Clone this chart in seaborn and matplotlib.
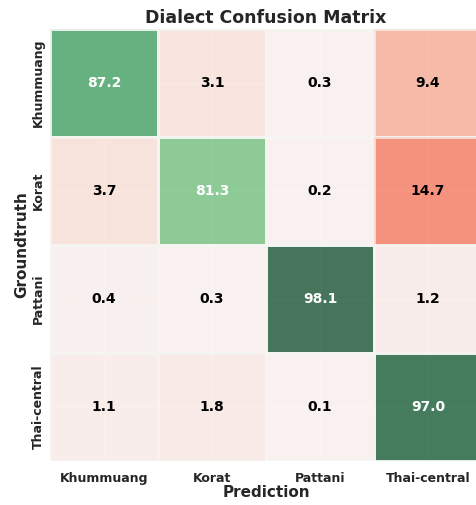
import matplotlib
matplotlib.use("Agg")
import matplotlib.pyplot as plt
import numpy as np
import pandas as pd
import seaborn as sns

DIALECTS = ["Khummuang", "Korat", "Pattani", "Thai-central"]
ROW_KHUMMUANG = [87.2, 3.1, 0.3, 9.4]
ROW_KORAT = [3.7, 81.3, 0.2, 14.7]
ROW_PATTANI = [0.4, 0.3, 98.1, 1.2]
ROW_THAI_CENTRAL = [1.1, 1.8, 0.1, 97.0]

sns.set_theme(style="darkgrid")
plt.rcParams["font.family"] = ["DejaVu Sans"]

cm = pd.DataFrame(
    [ROW_KHUMMUANG, ROW_KORAT, ROW_PATTANI, ROW_THAI_CENTRAL],
    index=DIALECTS,
    columns=DIALECTS,
)
diag = np.eye(len(DIALECTS), dtype=bool)

fig = plt.figure(figsize=(4.77, 5.05), dpi=100)
ax = fig.add_axes([0.1048, 0.0871, 0.9057, 0.8554])
ax.set_axisbelow(True)

# diagonal (correct) in greens, off-diagonal (errors) in reds
sns.heatmap(cm, mask=~diag, cmap="Greens", vmin=62, vmax=98.1, alpha=0.7,
            annot=True, fmt=".1f", cbar=False, linewidths=1, linecolor="#f4f6f4",
            annot_kws={"weight": "bold", "size": 10, "color": "white"}, ax=ax)
sns.heatmap(cm, mask=diag, cmap="Reds", vmin=0, vmax=30, alpha=0.7,
            annot=True, fmt=".1f", cbar=False, linewidths=1, linecolor="#f4f6f4",
            annot_kws={"weight": "bold", "size": 10, "color": "black"}, ax=ax)

ax.grid(True, color="white", alpha=0.5)
ax.set_title("Dialect Confusion Matrix", fontsize=12.5, weight="bold", pad=4)
ax.set_xlabel("Prediction", fontsize=11, weight="bold", labelpad=0)
ax.set_ylabel("Groundtruth", fontsize=11, weight="bold", labelpad=2)
ax.set_xticklabels(DIALECTS, fontsize=9, weight="bold", rotation=0)
ax.set_yticklabels(DIALECTS, fontsize=9, weight="bold", rotation=90, va="center")
ax.tick_params(length=0)
ax.tick_params(axis="x", pad=8)

fig.savefig("out.png", dpi=100)
